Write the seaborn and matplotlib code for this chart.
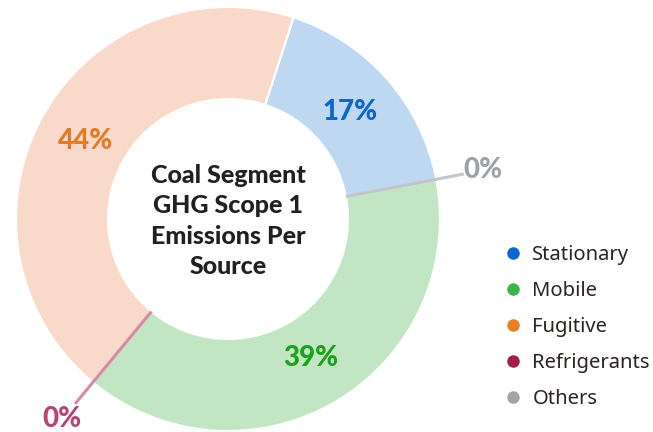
import numpy as np
import matplotlib
matplotlib.use("Agg")
import matplotlib.pyplot as plt
from matplotlib.lines import Line2D
import seaborn as sns

# Emission shares by source (percent)
sources = ["Stationary", "Mobile", "Fugitive", "Refrigerants", "Others"]
shares = [17, 39, 44, 0, 0]

# Ring order, clockwise from the top
ring_order = ["Stationary", "Others", "Mobile", "Refrigerants", "Fugitive"]

title_lines = ["Coal Segment", "GHG Scope 1", "Emissions Per", "Source"]

marker_colors = {
    "Stationary": "#0B66D0",
    "Mobile": "#3DB54A",
    "Fugitive": "#E67E22",
    "Refrigerants": "#A61C48",
    "Others": "#A0A4A8",
}
fill_colors = {
    "Stationary": "#BFD8F1",
    "Mobile": "#C2E5C3",
    "Fugitive": "#F9D9CA",
    "Refrigerants": "#D58BA6",
    "Others": "#C3C4C8",
}
label_colors = {
    "Stationary": "#0B66C9",
    "Mobile": "#1AA31A",
    "Fugitive": "#E27B27",
    "Refrigerants": "#B5466F",
    "Others": "#9EA2A6",
}

sns.set_theme(style="white")
plt.rcParams["font.family"] = ["Lato", "DejaVu Sans"]

W, H = 653, 432
fig = plt.figure(figsize=(W / 100, H / 100), dpi=100)
ax = fig.add_axes([0, 0, 1, 1])
ax.set_xlim(0, W)
ax.set_ylim(0, H)
ax.set_aspect("equal")
ax.axis("off")

cx, cy = 228, H - 219
R_out, R_in = 212, 120
start = 18  # degrees clockwise from 12 o'clock

share_of = dict(zip(sources, shares))
vals = [share_of[s] for s in ring_order]
cols = [fill_colors[s] for s in ring_order]

ax.pie(vals, colors=cols, startangle=90 - start, counterclock=False,
       radius=R_out, center=(cx, cy), frame=True,
       wedgeprops=dict(width=R_out - R_in, edgecolor="white", linewidth=1.5))
ax.set_xlim(0, W)
ax.set_ylim(0, H)
ax.axis("off")


def polar(angle_cw, r):
    a = np.deg2rad(angle_cw)
    return cx + r * np.sin(a), cy + r * np.cos(a)


total = float(sum(vals))
pos = start
for name, v in zip(ring_order, vals):
    span = 360.0 * v / total
    if v > 0:
        mid = pos + span / 2
        x, y = polar(mid, 162)
        ax.text(x, y, f"{v:.0f}%", color=label_colors[name], fontsize=20,
                fontweight="black", ha="center", va="center")
    else:
        # zero-share source: leader line on the boundary
        x0, y0 = polar(pos, R_in)
        x1, y1 = polar(pos, 240)
        ax.plot([x0, x1], [y0, y1], color=fill_colors[name], lw=2.2,
                solid_capstyle="butt", zorder=5)
        lx, ly = polar(pos, 260)
        ax.text(lx, ly, f"{v:.0f}%", color=label_colors[name], fontsize=20,
                fontweight="black", ha="center", va="center")
    pos += span

ax.text(cx, cy - 2, "\n".join(title_lines), color="#231F20", fontsize=18,
        fontweight="black", ha="center", va="center", linespacing=1.4)

handles = [Line2D([0], [0], marker="o", linestyle="none", markersize=9,
                  markerfacecolor=marker_colors[s], markeredgecolor="none")
           for s in sources]
leg = ax.legend(handles, sources, loc="upper left",
                bbox_to_anchor=(495 / W, 1 - 237 / H), frameon=False,
                prop={"family": "Noto Sans", "size": 14.5},
                labelspacing=0.8, handlelength=1.0, handletextpad=0.45,
                borderaxespad=0)
for t in leg.get_texts():
    t.set_color("#2B2222")

fig.savefig("out.png", dpi=100)
